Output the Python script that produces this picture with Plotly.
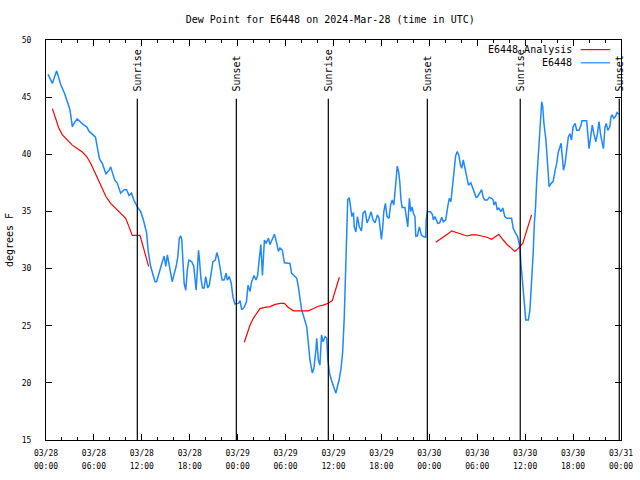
import pandas as pd
import plotly.graph_objects as go

START = pd.Timestamp("2024-03-28 00:00")

# E6448 observations: hours after start, dew point (F)
obs_hours = [0.25, 0.79, 1.34, 1.84, 2.34, 2.67, 3.0, 3.3, 3.5, 3.9, 4.2, 4.67, 5.1, 5.4, 5.9, 6.2, 6.4, 6.7, 7.05, 7.5,
             7.9, 8.1, 8.4, 8.6, 8.9, 9.35, 9.8, 10.1, 10.4, 10.7, 11.0, 11.43, 11.85, 12.2, 12.6, 12.8, 13.1, 13.45, 13.65, 13.85,
             14.15, 14.5, 14.8, 15.0, 15.2, 15.45, 15.8, 16.0, 16.3, 16.5, 16.7, 16.87, 17.0, 17.3, 17.5, 17.7, 17.9, 18.25, 18.5, 18.8,
             18.95, 19.1, 19.2, 19.4, 19.6, 19.8, 20.0, 20.25, 20.45, 20.65, 20.9, 21.2, 21.4, 21.6, 21.8, 22.05, 22.3, 22.55, 22.7, 22.95,
             23.2, 23.4, 23.65, 23.95, 24.1, 24.3, 24.5, 24.8, 25.1, 25.3, 25.55, 25.75, 26.05, 26.3, 26.5, 26.65, 26.9, 27.1, 27.35, 27.55,
             27.85, 28.05, 28.35, 28.6, 28.9, 29.1, 29.3, 29.6, 29.85, 30.15, 30.55, 30.75, 31.1, 31.4, 31.6, 32.0, 32.4, 32.65, 32.85, 33.05,
             33.35, 33.55, 33.8, 33.9, 34.1, 34.3, 34.5, 34.7, 34.95, 35.15, 35.3, 35.5, 35.8, 36.05, 36.3, 36.5, 36.7, 36.95, 37.15, 37.35,
             37.5, 37.65, 37.78, 37.98, 38.15, 38.3, 38.5, 38.6, 38.8, 39.0, 39.23, 39.5, 39.7, 39.97, 40.2, 40.45, 40.7, 40.95, 41.2, 41.5,
             41.7, 42.0, 42.15, 42.3, 42.5, 42.7, 42.95, 43.15, 43.35, 43.55, 43.8, 43.98, 44.15, 44.3, 44.45, 44.6, 44.95, 45.15, 45.3, 45.5,
             45.67, 45.85, 46.0, 46.2, 46.3, 46.5, 46.75, 47.0, 47.25, 47.55, 47.6, 47.75, 48.15, 48.4, 48.5, 48.7, 49.05, 49.3, 49.55, 49.75,
             50.05, 50.3, 50.5, 50.7, 50.9, 51.1, 51.3, 51.5, 51.7, 51.9, 52.05, 52.25, 52.5, 52.7, 52.9, 53.2, 53.45, 53.65, 53.85, 54.05,
             54.3, 54.55, 54.75, 54.95, 55.25, 55.5, 55.8, 56.0, 56.1, 56.3, 56.5, 56.7, 56.95, 57.2, 57.45, 57.7, 58.3, 58.5, 58.8, 59.05,
             59.25, 59.35, 59.45, 59.55, 59.75, 59.9, 60.07, 60.4, 60.6, 60.8, 61.0, 61.15, 61.3, 61.45, 61.6, 61.75, 61.85, 62.0, 62.07, 62.2,
             62.35, 62.6, 62.77, 62.9, 63.0, 63.25, 63.5, 63.75, 63.95, 64.15, 64.35, 64.5, 64.65, 64.8, 65.0, 65.2, 65.4, 65.6, 65.8, 66.0,
             66.25, 66.45, 66.75, 67.0, 67.1, 67.7, 67.8, 68.0, 68.2, 68.4, 68.6, 68.85, 69.05, 69.25, 69.45, 69.65, 69.8, 70.0, 70.15, 70.35,
             70.6, 70.75, 70.9, 71.1, 71.3, 71.5, 71.7]
obs_values = [47.0, 46.2, 47.3, 46.1, 45.3, 44.6, 43.9, 42.4, 42.7, 43.1, 42.9, 42.6, 42.4, 42.0, 41.7, 41.5, 40.7, 39.6, 39.2, 38.3,
              38.6, 38.9, 38.2, 37.75, 37.5, 36.6, 36.9, 36.9, 36.4, 36.6, 36.0, 35.4, 35.0, 34.25, 33.1, 31.5, 30.2, 29.3, 28.85, 28.85,
              29.7, 30.45, 31.1, 30.2, 31.2, 30.2, 28.85, 29.4, 30.2, 31.0, 32.65, 32.85, 32.55, 28.7, 28.1, 29.9, 30.75, 30.6, 30.2, 28.1,
              29.9, 31.6, 30.9, 29.15, 28.3, 28.3, 29.3, 28.3, 28.55, 29.7, 30.6, 30.75, 31.4, 30.9, 30.0, 29.0, 29.0, 29.6, 29.0, 29.3,
              28.7, 27.55, 26.9, 26.9, 26.95, 27.2, 26.4, 26.6, 27.1, 28.55, 28.0, 28.85, 29.4, 29.0, 29.4, 30.45, 32.1, 29.4, 32.5, 32.2,
              32.65, 32.1, 32.65, 33.0, 32.2, 31.5, 31.8, 31.6, 30.5, 30.45, 30.45, 29.6, 29.4, 29.15, 28.4, 26.4, 25.5, 24.9, 23.5, 22.0,
              20.85, 21.3, 22.9, 23.9, 22.0, 21.55, 24.2, 23.6, 24.05, 23.9, 22.0, 20.85, 20.1, 19.5, 19.1, 19.7, 20.25, 21.3, 22.7, 25.8,
              29.9, 34.0, 36.0, 36.2, 35.0, 34.55, 34.9, 33.65, 33.2, 34.55, 33.65, 33.3, 34.85, 35.05, 34.0, 34.4, 34.98, 34.25, 34.0, 34.7,
              34.4, 32.56, 33.5, 34.98, 35.7, 34.55, 34.4, 35.56, 36.0, 35.56, 37.46, 38.97, 38.5, 37.6, 36.0, 35.35, 35.35, 34.25, 33.65, 36.15,
              34.98, 35.4, 34.85, 34.55, 32.85, 32.85, 33.65, 32.94, 32.8, 32.74, 34.25, 34.98, 34.98, 34.7, 34.25, 34.55, 33.96, 34.0, 34.5, 34.1,
              34.25, 35.4, 36.15, 35.85, 37.16, 39.06, 39.9, 40.23, 39.9, 39.06, 38.77, 39.5, 38.6, 37.75, 37.3, 37.5, 37.0, 36.6, 36.23, 36.3,
              36.6, 36.9, 36.23, 36.0, 36.0, 36.23, 36.15, 36.0, 35.56, 35.85, 35.13, 35.3, 34.98, 35.3, 34.55, 34.4, 34.4, 33.52, 33.1, 32.8,
              32.2, 31.8, 30.6, 29.6, 28.4, 26.95, 25.5, 25.5, 26.4, 28.4, 31.3, 33.96, 35.4, 37.75, 39.65, 41.25, 42.7, 44.0, 44.6, 44.16,
              42.7, 41.25, 39.5, 37.75, 37.16, 37.46, 37.6, 38.6, 39.2, 40.2, 40.8, 40.96, 39.8, 38.6, 39.2, 40.5, 41.5, 41.8, 41.25, 42.4,
              42.7, 42.1, 42.1, 42.56, 42.94, 42.94, 41.98, 40.5, 41.5, 42.56, 41.8, 41.1, 41.8, 42.85, 41.7, 40.96, 40.5, 42.4, 42.7, 42.1,
              42.4, 43.3, 43.45, 43.15, 43.3, 43.65, 43.5]

# E6448 Analysis: hours after start, dew point (F); None marks gaps
ana_hours = [0.8, 1.2, 1.6, 2.05, 2.67, 3.3, 3.9, 4.55, 5.1, 5.6, 6.2, 6.85, 7.5, 8.1, 8.7, 9.35, 9.98, 10.4, 10.8, 11.77,
             12.05, 12.5, 12.85, 18.0,
             24.83, 25.13, 25.55, 25.96, 26.4, 26.8, 27.4, 28.05, 28.7, 29.3, 29.85, 30.35, 30.97, 31.6, 32.2, 32.85, 33.5, 34.1, 34.7, 35.35,
             35.85, 36.2, 36.5, 36.73, 42.0,
             48.8, 49.35, 49.75, 50.3, 50.8, 51.4, 52.05, 52.7, 53.3, 53.9, 54.55, 55.2, 55.8, 56.2, 56.7, 57.25, 57.8, 58.3, 58.7, 59.15,
             59.7, 59.96, 60.4, 60.8]
ana_values = [44.0, 43.15, 42.3, 41.7, 41.25, 40.8, 40.5, 40.2, 39.8, 39.2, 38.3, 37.3, 36.3, 35.7, 35.3, 34.8, 34.4, 33.65, 32.9, 32.9,
              32.2, 31.05, 30.2, None,
              23.55, 24.2, 25.06, 25.65, 26.1, 26.5, 26.6, 26.67, 26.87, 26.96, 26.96, 26.6, 26.3, 26.3, 26.3, 26.3, 26.5, 26.7, 26.8, 26.96,
              27.2, 27.97, 28.7, 29.24, None,
              32.3, 32.56, 32.7, 33.03, 33.3, 33.14, 33.03, 32.85, 32.94, 32.94, 32.85, 32.74, 32.56, 32.74, 33.0, 32.5, 32.06, 31.77, 31.5, 31.77,
              32.2, 32.8, 33.8, 34.7]

sun_times = ["2024-03-28 11:26", "2024-03-28 23:50", "2024-03-29 11:21",
             "2024-03-29 23:45", "2024-03-30 11:23", "2024-03-30 23:47"]
sun_labels = ["Sunrise", "Sunset", "Sunrise", "Sunset", "Sunrise", "Sunset"]

x_tick_hours = list(range(0, 73, 6))
x_minor_hours = list(range(0, 73, 2))
y_ticks = [15, 20, 25, 30, 35, 40, 45, 50]

FONT = "DejaVu Sans Mono"
BLUE = "#1e88ff"
RED = "#ff0000"

to_t = lambda hs: [START + pd.Timedelta(hours=h) for h in hs]
obs_t = to_t(obs_hours)
ana_t = to_t(ana_hours)
tick_t = to_t(x_tick_hours)
SPAN = "<span style='font-size:8px'>{}</span>"
tick_text = [SPAN.format(t.strftime("%m/%d")) + "<br>" + SPAN.format(t.strftime("%H:%M")) for t in tick_t]

fig = go.Figure()
fig.add_trace(go.Scatter(x=obs_t, y=obs_values, mode="lines", name="E6448",
                         line=dict(color=BLUE, width=1.5), showlegend=False))
fig.add_trace(go.Scatter(x=ana_t, y=ana_values, mode="lines", name="E6448 Analysis",
                         line=dict(color=RED, width=1.2), connectgaps=False, showlegend=False))

for t, lab in zip(sun_times, sun_labels):
    fig.add_shape(type="line", xref="x", yref="y", x0=t, x1=t, y0=15, y1=44.85,
                  line=dict(color="black", width=1.2))
    fig.add_annotation(x=t, y=45.35, xref="x", yref="y", text=lab, textangle=-90,
                       showarrow=False, xanchor="center", yanchor="bottom",
                       font=dict(family=FONT, size=10, color="black"))

# legend (text left of sample, as in the reference)
for name, color, yp in [("E6448 Analysis", RED, 0.976), ("E6448", BLUE, 0.943)]:
    fig.add_annotation(x=0.919, y=yp, xref="paper", yref="paper", text=name,
                       showarrow=False, xanchor="right", yanchor="middle",
                       font=dict(family=FONT, size=10, color="black"))
    fig.add_shape(type="line", xref="paper", yref="paper", x0=0.930, x1=0.981, y0=yp, y1=yp,
                  line=dict(color=color, width=1.2))

fig.update_layout(
    width=640, height=480,
    margin=dict(l=46, r=19, t=40, b=40, autoexpand=False),
    paper_bgcolor="white", plot_bgcolor="white",
    title=dict(text="Dew Point for E6448 on 2024-Mar-28 (time in UTC)", x=0.516, xref="container",
               xanchor="center", y=0.96, yref="container", yanchor="middle",
               font=dict(family=FONT, size=10, color="black")),
    font=dict(family=FONT, color="black"),
)
fig.update_xaxes(type="date", range=[tick_t[0], tick_t[-1]], tickmode="array",
                 tickvals=tick_t, ticktext=tick_text, ticks="inside", ticklen=6,
                 tickcolor="black", mirror="allticks", showline=True, linecolor="black",
                 linewidth=1, showgrid=False, zeroline=False, automargin=False,
                 ticklabelstandoff=4,
                 tickfont=dict(family=FONT, size=9.5, color="black"),
                 minor=dict(tickmode="array", tickvals=to_t(x_minor_hours), ticks="inside",
                            ticklen=3, tickcolor="black", showgrid=False))
fig.update_yaxes(range=[15, 50], tickmode="array", tickvals=y_ticks, ticks="inside",
                 ticklen=6, tickcolor="black", mirror="allticks", showline=True,
                 linecolor="black", linewidth=1, showgrid=False, zeroline=False,
                 ticklabelstandoff=12, automargin=False,
                 tickfont=dict(family=FONT, size=8, color="black"),
                 title=dict(text="degrees F", standoff=6, font=dict(family=FONT, size=10, color="black")))

fig.write_html("out.html", config={"displayModeBar": False},
               post_script="document.body.style.margin='0px';document.body.style.overflow='hidden';")
